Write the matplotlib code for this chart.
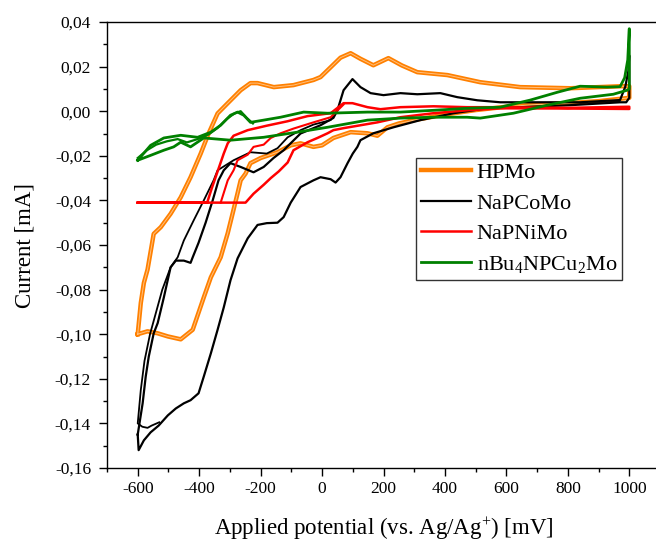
import matplotlib
matplotlib.use("Agg")
import matplotlib.pyplot as plt
from matplotlib.ticker import MultipleLocator, FuncFormatter

plt.rcParams['font.family'] = ['Liberation Serif', 'DejaVu Serif']
plt.rcParams['mathtext.fontset'] = 'custom'
plt.rcParams['mathtext.rm'] = 'Liberation Serif'
plt.rcParams['mathtext.it'] = 'Liberation Serif:italic'

# HPMo: forward (anodic) and return (cathodic) scans, mV / mA
hpmo_fwd_e = [-600, -590, -580, -568, -548, -525, -493, -460, -428, -395, -369, -340, -307, -265,
              -233, -210, -157, -93, -28, -5, 28, 60, 93, 125, 167, 216, 260, 310, 408, 515, 645,
              808, 971, 1000]
hpmo_fwd_i = [-0.100, -0.086, -0.077, -0.071, -0.055, -0.052, -0.046, -0.0386, -0.0296, -0.019,
              -0.0099, -0.001, 0.0036, 0.0094, 0.0126, 0.0126, 0.0108, 0.0117, 0.014, 0.0153,
              0.0197, 0.024, 0.026, 0.0235, 0.0206, 0.0238, 0.0205, 0.0175, 0.0162, 0.013,
              0.0108, 0.0103, 0.0112, 0.0112]
hpmo_ret_e = [1000, 900, 800, 700, 600, 500, 400, 300, 250, 213, 180, 148, 93, 37, 0, -28, -70,
              -102, -145, -200, -233, -249, -265, -275, -291, -307, -330, -362, -385, -421, -460,
              -502, -535, -568, -600]
hpmo_ret_i = [0.006, 0.0045, 0.0036, 0.003, 0.002, 0.0005, -0.0015, -0.004, -0.0055, -0.0072,
              -0.011, -0.0099, -0.0094, -0.012, -0.0153, -0.016, -0.0144, -0.0153, -0.0184,
              -0.021, -0.0233, -0.028, -0.031, -0.0368, -0.0458, -0.0547, -0.0655, -0.0745,
              -0.0835, -0.098, -0.1023, -0.101, -0.0996, -0.0987, -0.100]

# NaPCoMo
co_fwd_e = [-600, -584, -574, -564, -548, -535, -515, -493, -476, -450, -428, -421, -402, -379,
            -356, -337, -320, -298, -265, -223, -190, -158, -125, -70, -5, 37, 50, 70, 99, 125,
            158, 200, 255, 310, 385, 440, 505, 580, 678, 840, 970, 987, 997, 1000]
co_fwd_i = [-0.145, -0.131, -0.119, -0.110, -0.0996, -0.095, -0.0835, -0.070, -0.067, -0.067,
            -0.068, -0.0655, -0.059, -0.050, -0.040, -0.031, -0.0265, -0.0233, -0.025, -0.0274,
            -0.025, -0.021, -0.0175, -0.010, -0.0063, -0.003, 0.0004, 0.0094, 0.0144, 0.0108,
            0.0081, 0.0072, 0.0081, 0.0076, 0.0081, 0.0063, 0.0049, 0.004, 0.004, 0.004, 0.005,
            0.011, 0.018, 0.025]
co_ret_e = [1000, 990, 971, 808, 645, 538, 428, 320, 233, 167, 125, 115, 100, 83, 60, 44, 28, -5,
            -28, -70, -102, -125, -145, -180, -210, -242, -275, -298, -320, -340, -362, -385,
            -402, -428, -450, -476, -502, -532, -558, -580, -597, -600]
co_ret_i = [0.006, 0.004, 0.004, 0.0027, 0.0018, 0.0013, -0.0009, -0.004, -0.0072, -0.0099,
            -0.013, -0.016, -0.019, -0.0233, -0.0296, -0.032, -0.0305, -0.0296, -0.031, -0.034,
            -0.041, -0.0475, -0.050, -0.0502, -0.051, -0.057, -0.066, -0.0758, -0.088, -0.098,
            -0.1086, -0.119, -0.1265, -0.1296, -0.131, -0.1333, -0.1364, -0.141, -0.144,
            -0.1476, -0.152, -0.145]
# NaPCoMo, another cycle (part)
co_cyc2_e = [-530, -555, -568, -585, -600, -590, -578, -560, -540, -520, -493, -470, -450, -418,
             -385, -353, -340, -288, -233, -180, -145, -112, -70, -28, 28, 50]
co_cyc2_i = [-0.1395, -0.141, -0.142, -0.1415, -0.140, -0.125, -0.112, -0.100, -0.090, -0.080,
             -0.070, -0.0655, -0.058, -0.049, -0.040, -0.031, -0.0265, -0.022, -0.0184, -0.019,
             -0.0166, -0.0117, -0.0085, -0.006, -0.004, 0.0004]

# NaPNiMo
ni_fwd_e = [-600, -374, -360, -340, -320, -307, -288, -242, -180, -112, -47, 28, 70, 99, 148,
            190, 255, 363, 472, 580, 800, 1000]
ni_fwd_i = [-0.041, -0.041, -0.035, -0.027, -0.019, -0.0144, -0.011, -0.0085, -0.0065, -0.0045,
            -0.0022, -0.0009, 0.0036, 0.0036, 0.0018, 0.0009, 0.0018, 0.0022, 0.0018, 0.0018,
            0.0015, 0.0020]
ni_ret_e = [1000, 800, 580, 472, 363, 255, 180, 125, 70, 37, 18, -15, -47, -93, -112, -141,
            -167, -190, -223, -249, -600]
ni_ret_i = [0.0010, 0.0012, 0.0013, 0.0004, -0.0009, -0.0027, -0.005, -0.0063, -0.0076,
            -0.0085, -0.0099, -0.012, -0.0139, -0.0175, -0.023, -0.027, -0.030, -0.033, -0.037,
            -0.041, -0.041]
ni_cyc2_e = [-330, -307, -288, -275, -242, -223, -190, -167, -135, -93, -28, 28, 70]
ni_cyc2_i = [-0.041, -0.031, -0.0265, -0.022, -0.0195, -0.016, -0.015, -0.012, -0.0099,
             -0.0078, -0.005, -0.0027, 0.0030]

# nBu4NPCu2Mo
cu_fwd_e = [-600, -558, -515, -460, -405, -362, -330, -298, -275, -255, -233, -190, -135, -60,
            18, 148, 255, 363, 472, 580, 678, 766, 840, 928, 970, 985, 995, 1000]
cu_fwd_i = [-0.022, -0.0153, -0.012, -0.0108, -0.0117, -0.0094, -0.0063, -0.0018, -0.0004,
            -0.0018, -0.005, -0.004, -0.0027, -0.0004, -0.0009, -0.0004, -0.0004, 0.0004, 0.0013,
            0.0018, 0.005, 0.0085, 0.0112, 0.0108, 0.011, 0.015, 0.023, 0.037]
cu_ret_e = [1000, 993, 948, 840, 733, 623, 515, 472, 363, 255, 148, 18, -80, -190, -298, -385,
            -428, -460, -483, -515, -558, -600]
cu_ret_i = [0.010, 0.0094, 0.0076, 0.0058, 0.0027, -0.0009, -0.0031, -0.0027, -0.0027, -0.0031,
            -0.004, -0.0072, -0.0094, -0.0117, -0.013, -0.012, -0.016, -0.0139, -0.016, -0.0175,
            -0.0198, -0.022]
cu_cyc2_e = [-600, -570, -540, -505, -470, -440, -405, -370, -340, -310, -285, -265, -245, -225]
cu_cyc2_i = [-0.021, -0.0175, -0.015, -0.0135, -0.0125, -0.014, -0.0125, -0.0105, -0.0075,
             -0.0035, -0.001, 0.0, -0.003, -0.0055]

ORANGE = '#ff8000'
BLACK = '#000000'
RED = '#ff0000'
GREEN = '#008000'

fig = plt.figure(figsize=(6.56, 5.42), dpi=100)
ax = fig.add_axes([107 / 656, 1 - 468 / 542, 553 / 656, 446 / 542])

# HPMo drawn as a doubled trace
ax.plot(hpmo_fwd_e + hpmo_ret_e, hpmo_fwd_i + hpmo_ret_i, color=ORANGE, lw=3.2,
        solid_joinstyle='round', label='HPMo', zorder=2)
ax.plot(hpmo_fwd_e + hpmo_ret_e, hpmo_fwd_i + hpmo_ret_i, color='#ffc080', lw=0.7, zorder=2)

ax.plot(co_fwd_e + co_ret_e, co_fwd_i + co_ret_i, color=BLACK, lw=1.6, label='NaPCoMo', zorder=3)
ax.plot(co_cyc2_e, co_cyc2_i, color=BLACK, lw=1.3, zorder=3)

ax.plot(ni_fwd_e + ni_ret_e, ni_fwd_i + ni_ret_i, color=RED, lw=1.8, label='NaPNiMo', zorder=4)
ax.plot(ni_cyc2_e, ni_cyc2_i, color=RED, lw=1.5, zorder=4)

ax.plot(cu_fwd_e + cu_ret_e, cu_fwd_i + cu_ret_i, color=GREEN, lw=2.0,
        label='nBu$_4$NPCu$_2$Mo', zorder=5)
ax.plot(cu_cyc2_e, cu_cyc2_i, color=GREEN, lw=1.6, zorder=5)

ax.set_xlim(-700, 1100)
ax.set_ylim(-0.16, 0.04)
ax.xaxis.set_major_locator(MultipleLocator(200))
ax.xaxis.set_minor_locator(MultipleLocator(100))
ax.yaxis.set_major_locator(MultipleLocator(0.02))
ax.yaxis.set_minor_locator(MultipleLocator(0.01))
ax.xaxis.set_major_formatter(FuncFormatter(lambda v, p: f"{v:.0f}"))
ax.yaxis.set_major_formatter(FuncFormatter(lambda v, p: f"{v:.2f}".replace('.', ',')))
ax.tick_params(which='both', direction='out', width=1.0, labelsize=12.5, top=False, right=False)
ax.tick_params(which='major', length=6)
ax.tick_params(which='minor', length=3)
ax.tick_params(axis='y', which='major', pad=5.5)
for s in ax.spines.values():
    s.set_linewidth(1.0)

ax.set_xlabel('Applied potential (vs. Ag/Ag$^{+}$) [mV]', fontsize=16.5, labelpad=13)
ax.set_ylabel('Current [mA]', fontsize=16.5, labelpad=14)

leg = ax.legend(loc='upper right', bbox_to_anchor=(0.931, 0.695), borderaxespad=0,
                fontsize=16, frameon=True, fancybox=False, edgecolor='black',
                handlelength=2.25, labelspacing=0.45, borderpad=0.2, handletextpad=0.28)
leg.get_frame().set_linewidth(1.0)

fig.savefig('out.png', dpi=100)
